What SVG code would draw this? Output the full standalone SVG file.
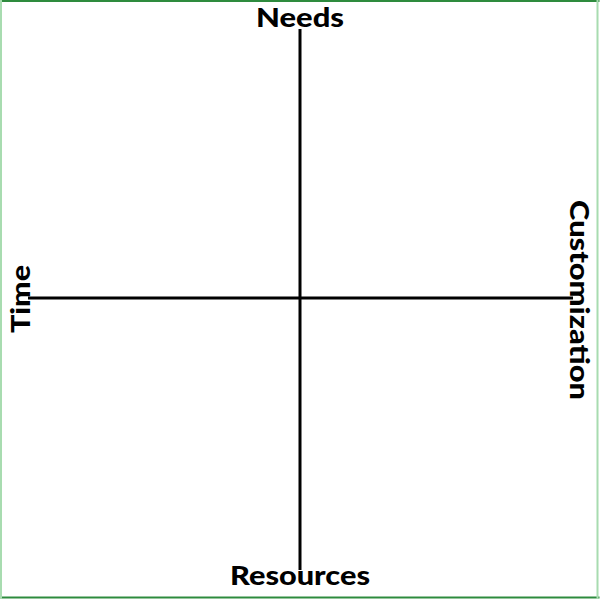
<svg xmlns="http://www.w3.org/2000/svg" width="600" height="599" viewBox="0 0 600 599">
<style>
.lbl{font-family:Lato,"Noto Sans",sans-serif;font-weight:900;font-size:26px;fill:#000;text-anchor:middle}
.axis{stroke:#000;stroke-width:3;fill:none}
</style>
<rect x="0" y="0" width="600" height="599" fill="#fff"/>
<line x1="0.5" y1="1" x2="599.5" y2="1" stroke="#2e8b3e" stroke-width="2"/>
<line x1="0.5" y1="597.5" x2="599.5" y2="597.5" stroke="#2e8b3e" stroke-width="2"/>
<line x1="1" y1="0" x2="1" y2="599" stroke="#a8dcb0" stroke-width="2"/>
<line x1="597.5" y1="0" x2="597.5" y2="599" stroke="#a8dcb0" stroke-width="2"/>
<g id="connectors">
<line class="axis" x1="300" y1="29" x2="300" y2="570"/>
<line class="axis" x1="28" y1="298" x2="573" y2="298"/>
</g>
<g id="needs"><text class="lbl" x="300" y="27" textLength="88" lengthAdjust="spacingAndGlyphs">Needs</text></g>
<g id="resources"><text class="lbl" x="300" y="585" textLength="140" lengthAdjust="spacingAndGlyphs">Resources</text></g>
<g id="time"><text class="lbl" transform="translate(30,299) rotate(-90)" textLength="68" lengthAdjust="spacingAndGlyphs">Time</text></g>
<g id="customization"><text class="lbl" transform="translate(570,300) rotate(90)" textLength="200" lengthAdjust="spacingAndGlyphs">Customization</text></g>
</svg>
